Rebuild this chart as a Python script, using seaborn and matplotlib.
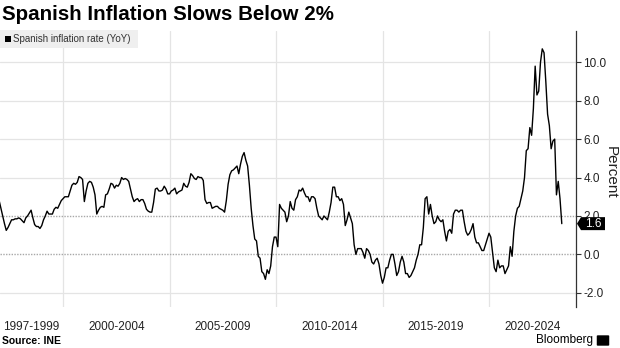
import numpy as np
import pandas as pd
import matplotlib
matplotlib.use("Agg")
import matplotlib.pyplot as plt
import seaborn as sns
from matplotlib.patches import Polygon, Rectangle, FancyBboxPatch

# ---------------- data ----------------
title = "Spanish Inflation Slows Below 2%"
series_name = "Spanish inflation rate (YoY)"
source = "Source: INE"
start_year = 1997  # first observation: January 1997, monthly

yoy_values = [
    # 1997
    2.8, 2.4, 2.0, 1.6, 1.25, 1.4, 1.6, 1.8, 1.8, 1.85, 1.85, 1.9,
    # 1998
    1.85, 1.75, 1.65, 1.9, 2.0, 2.15, 2.3, 1.9, 1.55, 1.45, 1.45, 1.35,
    # 1999
    1.5, 1.8, 2.0, 2.25, 2.1, 2.1, 2.1, 2.35, 2.45, 2.4, 2.6, 2.8,
    # 2000
    2.9, 3.0, 3.0, 3.0, 3.3, 3.6, 3.7, 3.65, 3.75, 4.05, 4.0, 3.9,
    # 2001
    2.75, 3.3, 3.7, 3.8, 3.75, 3.5, 3.1, 2.1, 2.3, 2.45, 2.5, 2.45,
    # 2002
    3.1, 3.15, 3.4, 3.7, 3.65, 3.45, 3.6, 3.55, 3.7, 4.0, 3.9, 3.95,
    # 2003
    3.9, 3.8, 3.4, 3.0, 2.75, 2.85, 2.9, 2.75, 2.85, 2.85, 2.65, 2.35,
    # 2004
    2.25, 2.2, 2.2, 2.7, 3.4, 3.45, 3.3, 3.3, 3.35, 3.55, 3.4, 3.15,
    # 2005
    3.15, 3.3, 3.35, 3.45, 3.15, 3.25, 3.3, 3.35, 3.7, 3.55, 3.5, 3.75,
    # 2006
    4.2, 4.1, 3.95, 3.9, 4.05, 4.0, 4.0, 3.85, 2.85, 2.65, 2.7, 2.7,
    # 2007
    2.4, 2.45, 2.5, 2.5, 2.4, 2.35, 2.3, 2.2, 2.8, 3.65, 4.15, 4.35,
    # 2008
    4.4, 4.5, 4.6, 4.2, 4.7, 5.1, 5.3, 4.9, 4.6, 3.6, 2.4, 1.5,
    # 2009
    0.8, 0.7, -0.1, -0.2, -0.9, -1.0, -1.3, -0.8, -1.0, -0.6, 0.4, 0.9,
    # 2010
    0.9, 0.4, 2.6, 2.4, 2.3, 2.2, 1.7, 2.0, 2.75, 2.4, 2.3, 2.85,
    # 2011
    3.0, 3.35, 3.3, 3.45, 3.2, 3.0, 3.0, 2.75, 3.0, 3.0, 2.9, 2.4,
    # 2012
    2.0, 1.9, 1.8, 2.0, 1.9, 1.8, 2.2, 2.7, 3.5, 3.5, 3.0, 3.0,
    # 2013
    2.8, 2.9, 2.6, 1.5, 1.8, 2.2, 1.9, 1.6, 0.5, 0.0, 0.3, 0.3,
    # 2014
    0.3, 0.1, -0.2, 0.3, 0.2, 0.0, -0.4, -0.5, -0.3, -0.2, -0.5, -1.1,
    # 2015
    -1.5, -1.2, -0.7, -0.7, -0.3, 0.0, 0.0, -0.5, -1.1, -0.9, -0.4, -0.1,
    # 2016
    -0.4, -1.0, -1.0, -1.2, -1.1, -0.9, -0.7, -0.3, 0.0, 0.5, 0.5, 1.4,
    # 2017
    2.9, 3.0, 2.1, 2.6, 2.0, 1.6, 1.7, 2.0, 1.8, 1.7, 1.8, 1.2,
    # 2018
    0.7, 1.2, 1.3, 1.1, 2.1, 2.3, 2.3, 2.2, 2.3, 2.3, 1.7, 1.2,
    # 2019
    1.0, 1.1, 1.3, 1.6, 0.9, 0.6, 0.6, 0.4, 0.2, 0.2, 0.5, 0.8,
    # 2020
    1.1, 0.9, 0.1, -0.7, -0.9, -0.3, -0.7, -0.6, -0.6, -1.0, -0.8, -0.6,
    # 2021
    0.4, -0.1, 1.2, 2.0, 2.4, 2.5, 2.9, 3.3, 4.0, 5.4, 5.5, 6.6,
    # 2022
    6.2, 7.6, 9.8, 8.3, 8.5, 10.0, 10.7, 10.5, 9.0, 7.3, 6.7, 5.5,
    # 2023
    5.9, 6.0, 3.1, 3.8, 2.9, 1.6,
]

period_starts = [1997, 2000, 2005, 2010, 2015, 2020]
period_labels = ["1997-1999", "2000-2004", "2005-2009", "2010-2014", "2015-2019", "2020-2024"]
y_ticks = [-2, 0, 2, 4, 6, 8, 10]

# ---------------- frame ----------------
t = start_year + np.arange(len(yoy_values)) / 12.0
df = pd.DataFrame({"t": t, "yoy": yoy_values})

sns.set_theme(style="white")
plt.rcParams["font.family"] = ["Liberation Sans", "DejaVu Sans"]

W, H = 620, 348
fig = plt.figure(figsize=(W / 100, H / 100), dpi=100)
ax_left, ax_right, ax_top, ax_bottom = 0, 575.7, 31, 307
ax = fig.add_axes([ax_left / W, 1 - ax_bottom / H, (ax_right - ax_left) / W, (ax_bottom - ax_top) / H])

sns.lineplot(data=df, x="t", y="yoy", ax=ax, color="black", linewidth=1.0, legend=False, zorder=5)

x_min, x_max = 1997.04, 2024.07
ax.set_xlim(x_min, x_max)
ax.set_ylim(-2.74, 11.63)

# vertical grid at period boundaries
ax.set_xticks(period_starts[1:])
ax.set_xticklabels([])
ax.tick_params(axis="x", which="major", length=0)
ax.xaxis.grid(True, color="#e4e4e4", linewidth=0.9)

# period labels centred between boundaries
bounds = period_starts + [x_max]
centers = [(bounds[i] + bounds[i + 1]) / 2 for i in range(len(period_labels))]
ax.set_xticks(centers, minor=True)
ax.set_xticklabels(period_labels, minor=True)
ax.tick_params(axis="x", which="minor", length=0, pad=10, labelsize=8.5, labelcolor="#222222")

# y axis on the right
ax.yaxis.tick_right()
ax.set_yticks(y_ticks)
ax.set_yticklabels([f"{v:.1f}" for v in y_ticks])
ax.tick_params(axis="y", which="major", direction="out", length=3.5, width=0.8,
               color="#333333", labelsize=8.5, labelcolor="#222222", pad=2)
ax.yaxis.grid(True, color="#e4e4e4", linewidth=0.9)
for val, gl in zip(y_ticks, ax.get_ygridlines()):
    if val in (0, 2):
        gl.set_color("#a8a8a8")
        gl.set_linestyle((0, (1, 1)))
        gl.set_linewidth(1.0)
ax.set_ylabel("")
ax.set_xlabel("")

for s in ["left", "top", "bottom"]:
    ax.spines[s].set_visible(False)
ax.spines["right"].set_color("#333333")
ax.spines["right"].set_linewidth(0.9)
ax.set_facecolor("white")

# Percent label
fig.text(611 / W, 1 - 172 / H, "Percent", rotation=270, ha="center", va="center",
         fontsize=11, color="#222222")

# last value flag
fig.canvas.draw()
last = yoy_values[-1]
_, ymid = ax.transData.transform((x_max, last))
xl = 577
pts = [(xl, ymid), (xl + 4, ymid + 6.5), (605, ymid + 6.5), (605, ymid - 6.5), (xl + 4, ymid - 6.5)]
flag = Polygon(pts, closed=True, facecolor="black", edgecolor="none", transform=None, zorder=20)
fig.patches.append(flag)
fig.text(593 / W, ymid / H, f"{last:.1f}", color="white", ha="center", va="center",
         fontsize=8.5, zorder=21)

# legend box
fig.patches.append(Rectangle((0, 1 - 48 / H), 138 / W, 18 / H, transform=fig.transFigure,
                             facecolor="#efefef", edgecolor="none", zorder=10))
fig.patches.append(Rectangle((5 / W, 1 - 42 / H), 6 / W, 6 / H, transform=fig.transFigure,
                             facecolor="black", edgecolor="none", zorder=11))
fig.text(13 / W, 1 - 39 / H, series_name, fontsize=7, color="#333333", va="center", ha="left", zorder=12)

# title and footer
fig.text(2 / W, 1 - 15 / H, title, fontsize=14.8, fontweight="bold", color="black", va="center", ha="left")
fig.text(2 / W, 1 - 341 / H, source, fontsize=7.5, fontweight="bold", color="black", va="center", ha="left")
fig.text(593 / W, 1 - 340.5 / H, "Bloomberg", fontsize=8.5, color="black", va="center", ha="right")
fig.patches.append(FancyBboxPatch((598 / W, 1 - 345 / H), 10 / W, 9 / H, boxstyle="round,pad=0.002",
                                  transform=fig.transFigure, facecolor="black", edgecolor="none"))

fig.savefig("out.png", dpi=100, facecolor="white")
